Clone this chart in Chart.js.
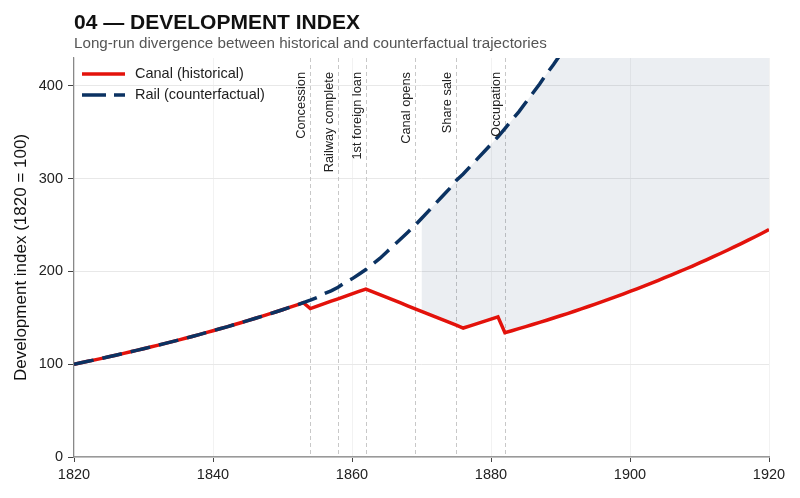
<!DOCTYPE html>
<html>
<head>
<meta charset="utf-8">
<script src="https://cdn.jsdelivr.net/npm/chart.js@4.4.1/dist/chart.umd.min.js"></script>
<style>
  html, body { margin: 0; padding: 0; background: #ffffff; }
  #wrap { position: relative; width: 800px; height: 498px; }
</style>
</head>
<body>
<div id="wrap"><canvas id="c" width="800" height="498"></canvas></div>
<script>
// ---- Data ----
const years = [
  1820,1821,1822,1823,1824,1825,1826,1827,1828,1829,
  1830,1831,1832,1833,1834,1835,1836,1837,1838,1839,
  1840,1841,1842,1843,1844,1845,1846,1847,1848,1849,
  1850,1851,1852,1853,1854,1855,1856,1857,1858,1859,
  1860,1861,1862,1863,1864,1865,1866,1867,1868,1869,
  1870,1871,1872,1873,1874,1875,1876,1877,1878,1879,
  1880,1881,1882,1883,1884,1885,1886,1887,1888,1889,
  1890,1891,1892,1893,1894,1895,1896,1897,1898,1899,
  1900,1901,1902,1903,1904,1905,1906,1907,1908,1909,
  1910,1911,1912,1913,1914,1915,1916,1917,1918,1919,
  1920
];
const canalHistorical = [
  100,101.6,103.1,104.7,106.3,108.0,109.7,111.4,113.1,114.9,
  116.7,118.5,120.3,122.2,124.1,126.0,127.9,129.9,131.9,134.0,
  136.1,138.2,140.3,142.5,144.7,147.0,149.3,151.6,153.9,156.3,
  158.7,161.2,163.7,166.3,160.0,162.6,165.2,167.9,170.5,173.1,
  175.8,178.4,181.0,178.0,175.0,172.0,169.0,166.0,163.0,160.0,
  157.0,154.0,151.0,148.0,145.0,142.0,139.0,141.4,143.8,146.2,
  148.6,151.0,134.0,136.1,138.3,140.5,142.8,145.1,147.4,149.8,
  152.2,154.6,157.1,159.6,162.2,164.8,167.4,170.1,172.8,175.6,
  178.4,181.3,184.2,187.1,190.1,193.2,196.3,199.4,202.6,205.8,
  209.1,212.5,215.9,219.3,222.8,226.4,230.0,233.7,237.4,241.2,
  245.1
];
const railCounterfactual = [
  100,101.6,103.1,104.7,106.3,108.0,109.7,111.4,113.1,114.9,
  116.7,118.5,120.3,122.2,124.1,126.0,127.9,129.9,131.9,134.0,
  136.1,138.2,140.3,142.5,144.7,147.0,149.3,151.6,153.9,156.3,
  158.7,161.2,163.7,166.3,169.0,172.0,176.0,179.0,183.0,188.0,
  192.0,197.0,202.0,208.0,214.0,221.0,228.0,235.0,242.0,249.0,
  257.0,265.0,273.0,281.0,289.0,298.0,305.0,313.0,321.0,329.0,
  337.0,345.0,354.0,363.0,372.0,382.0,392.0,402.0,413.0,423.0,
  434.0,445.0,457.0,469.0,481.0,494.0,507.0,520.0,534.0,548.0,
  562.0,577.0,592.0,607.0,623.0,639.0,656.0,673.0,691.0,709.0,
  727.0,746.0,766.0,786.0,806.0,827.0,849.0,871.0,894.0,917.0,
  941.0
];
const eventYears  = [1854, 1858, 1862, 1869, 1875, 1882];
const eventLabels = ["Concession", "Railway complete", "1st foreign loan", "Canal opens", "Share sale", "Occupation"];
const shadeStartYear = 1870;
const xTicks = [1820, 1840, 1860, 1880, 1900, 1920];
const yTicks = [0, 100, 200, 300, 400];
const seriesNames = ["Canal (historical)", "Rail (counterfactual)"];

const RED = '#e3120b';
const NAVY = '#0b3262';
const FONT = "'Liberation Sans', Arial, Helvetica, sans-serif";

const canalPts = years.map((y, i) => ({x: y, y: canalHistorical[i]}));
const railPts  = years.map((y, i) => ({x: y, y: railCounterfactual[i]}));
const shadePts = years.map((y, i) => ({x: y, y: y >= shadeStartYear ? railCounterfactual[i] : null}));

const overlay = {
  id: 'overlay',
  beforeDatasetsDraw(chart) {
    const {ctx, chartArea: a, scales: {x}} = chart;
    ctx.save();
    ctx.strokeStyle = '#c8c8c8';
    ctx.lineWidth = 1;
    ctx.setLineDash([4, 3]);
    eventYears.forEach(yr => {
      const px = Math.round(x.getPixelForValue(yr)) + 0.5;
      ctx.beginPath();
      ctx.moveTo(px, a.top);
      ctx.lineTo(px, a.bottom);
      ctx.stroke();
    });
    ctx.restore();
  },
  afterDatasetsDraw(chart) {
    const {ctx, chartArea: a, scales: {x}} = chart;
    ctx.save();
    // event labels
    ctx.fillStyle = '#222';
    ctx.font = `12.8px ${FONT}`;
    eventYears.forEach((yr, i) => {
      const px = x.getPixelForValue(yr);
      ctx.save();
      ctx.translate(px - 2, a.top + 14);
      ctx.rotate(-Math.PI / 2);
      ctx.textAlign = 'right';
      ctx.textBaseline = 'bottom';
      ctx.fillText(eventLabels[i], 0, 0);
      ctx.restore();
    });
    // legend
    const lx0 = a.left + 8, lx1 = a.left + 51;
    const rows = [a.top + 16, a.top + 37];
    ctx.lineWidth = 3.5;
    ctx.lineCap = 'butt';
    ctx.strokeStyle = RED;
    ctx.setLineDash([]);
    ctx.beginPath(); ctx.moveTo(lx0, rows[0]); ctx.lineTo(lx1, rows[0]); ctx.stroke();
    ctx.strokeStyle = NAVY;
    ctx.setLineDash([24, 8]);
    ctx.beginPath(); ctx.moveTo(lx0, rows[1]); ctx.lineTo(lx1, rows[1]); ctx.stroke();
    ctx.setLineDash([]);
    ctx.fillStyle = '#222';
    ctx.font = `14.5px ${FONT}`;
    ctx.textAlign = 'left';
    ctx.textBaseline = 'middle';
    ctx.fillText(seriesNames[0], lx1 + 10, rows[0]);
    ctx.fillText(seriesNames[1], lx1 + 10, rows[1]);
    // title
    ctx.fillStyle = '#111';
    ctx.font = `bold 21px ${FONT}`;
    ctx.textBaseline = 'alphabetic';
    ctx.fillText('04 — DEVELOPMENT INDEX', a.left, 29);
    ctx.fillStyle = '#555';
    ctx.font = `15.2px ${FONT}`;
    ctx.fillText('Long-run divergence between historical and counterfactual trajectories', a.left, 48);
    ctx.restore();
  }
};

new Chart(document.getElementById('c'), {
  type: 'line',
  data: {
    datasets: [
      {
        label: 'shade', data: shadePts, parsing: false,
        borderWidth: 0, borderColor: 'rgba(0,0,0,0)', pointRadius: 0,
        fill: {target: 1}, backgroundColor: 'rgba(60,90,125,0.10)',
        order: 3
      },
      {
        label: seriesNames[0], data: canalPts, parsing: false,
        borderColor: RED, borderWidth: 3.5, pointRadius: 0, fill: false,
        tension: 0, order: 2, borderJoinStyle: 'miter'
      },
      {
        label: seriesNames[1], data: railPts, parsing: false,
        borderColor: NAVY, borderWidth: 3.5, pointRadius: 0, fill: false,
        borderDash: [20, 9], tension: 0, order: 1
      }
    ]
  },
  options: {
    responsive: false,
    animation: false,
    devicePixelRatio: 1,
    layout: { padding: { top: 58, right: 31, left: 0, bottom: 0 } },
    plugins: { legend: { display: false }, tooltip: { enabled: false }, title: { display: false } },
    scales: {
      x: {
        type: 'linear', min: 1820, max: 1920,
        afterBuildTicks: s => { s.ticks = xTicks.map(v => ({value: v})); },
        afterFit: s => { s.height = 41; },
        grid: { color: '#f2f2f2', lineWidth: 1, drawTicks: true, tickLength: 5, tickColor: '#444' },
        border: { color: '#999', width: 1.5 },
        ticks: { color: '#222', font: { family: FONT, size: 14.5 }, padding: 4, maxRotation: 0,
                 callback: v => String(v) }
      },
      y: {
        type: 'linear', min: 0, max: 430,
        afterBuildTicks: s => { s.ticks = yTicks.map(v => ({value: v})); },
        afterFit: s => { s.width = 74; },
        grid: { color: '#e8e8e8', lineWidth: 1, drawTicks: true, tickLength: 6, tickColor: '#444' },
        border: { color: '#888', width: 1.2 },
        ticks: { color: '#222', font: { family: FONT, size: 14.5 }, padding: 5 },
        title: { display: true, text: 'Development index (1820 = 100)', color: '#111', font: { family: FONT, size: 17 }, padding: { top: 11, bottom: 0 } }
      }
    }
  },
  plugins: [overlay]
});
</script>
</body>
</html>
